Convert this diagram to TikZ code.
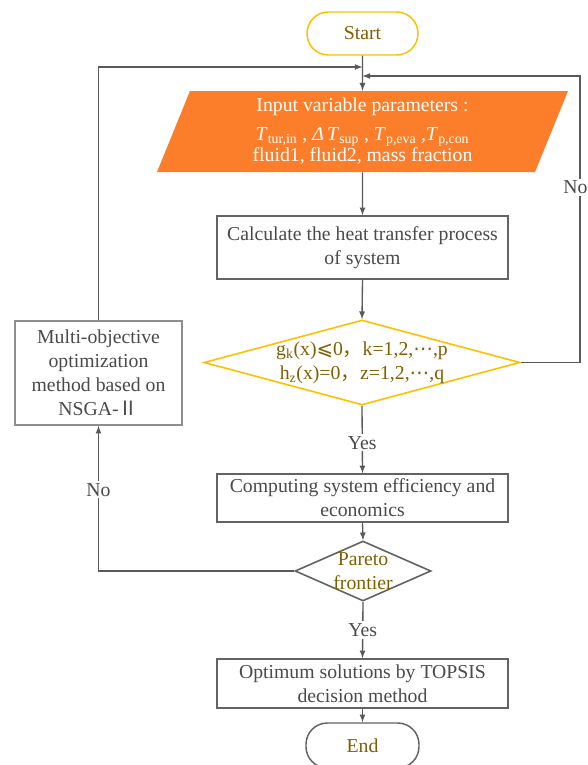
\documentclass[tikz,border=0pt]{standalone}
\usepackage{fontspec}
\setmainfont{Liberation Serif}
\newfontfamily\symfont{DejaVu Sans}
\newfontfamily\cjk{Noto Sans CJK SC}
\usepackage{xcolor}
\usetikzlibrary{shapes,arrows,calc}
\definecolor{linegray}{HTML}{595959}
\definecolor{boxgray}{HTML}{636363}
\definecolor{lightgray}{HTML}{8E8E8E}
\definecolor{txtgray}{HTML}{4A4A4A}
\definecolor{gold}{HTML}{FFC000}
\definecolor{goldtext}{HTML}{7F6000}
\definecolor{flowor}{HTML}{FC7E2A}
\tikzset{
  every node/.style={font=\fontsize{14.8pt}{18pt}\selectfont, text=txtgray},
  terminal/.style={rectangle, rounded corners=16pt, draw, line width=1.1pt,
    minimum width=83.25pt, minimum height=32.25pt, text=goldtext},
  process/.style={rectangle, draw=boxgray, line width=1.1pt,
    minimum width=218.25pt, align=center, inner sep=0pt},
  decision/.style={diamond, draw, line width=1.2pt, align=center, text=goldtext},
  inputbox/.style={trapezium, trapezium left angle=63.7, trapezium right angle=116.3,
    trapezium stretches body, fill=flowor, text=white, minimum width=308.25pt,
    minimum height=60.75pt, align=center, inner sep=0pt},
  flow/.style={draw=linegray, line width=1pt, -latex},
  lbl/.style={fill=white, inner sep=1.5pt}
}

\begin{document}
\begin{tikzpicture}[x=0.75pt,y=-0.75pt]
\useasboundingbox[fill=white] (0,0) rectangle (588,765);

\node[terminal, draw=gold] (start) at (362.5,33.5) {Start};
\node[inputbox] (input) at (362.5,131.5) {Input variable parameters :\\[3.5pt]
  \textit{T}\textsubscript{tur,in} , \textit{Δ\,T}\textsubscript{sup} , \textit{T}\textsubscript{p,eva} ,\textit{T}\textsubscript{p,con}\\[-2pt]
  fluid1, fluid2, mass fraction};
\node[process, minimum height=47.25pt] (calc) at (362.5,247.5)
  {Calculate the heat transfer process\\of system};
\node[decision, draw=gold, minimum width=237pt, minimum height=63.75pt, aspect=3.72,
  inner sep=-6pt] (check) at (362,362.5)
  {g\textsubscript{k}(x){\symfont ⩽}0{\cjk ，}k=1,2,{\symfont ⋯},p\\
   h\textsubscript{z}(x)=0{\cjk ，}z=1,2,{\symfont ⋯},q};
\node[process, minimum height=36pt] (compute) at (362.5,498)
  {Computing system efficiency and\\economics};
\node[decision, draw=boxgray, minimum width=102pt, minimum height=45pt, aspect=2.27,
  inner sep=-8pt] (pareto) at (363,571) {Pareto\\frontier};
\node[process, minimum height=36.75pt] (optimum) at (362.5,683.5)
  {Optimum solutions by TOPSIS\\decision method};
\node[terminal, draw=boxgray, minimum width=84.75pt, minimum height=33.75pt] (finish)
  at (362.5,745.5) {End};
\node[process, draw=lightgray, minimum width=125.25pt, minimum height=78pt] (multi)
  at (98.5,373) {Multi-objective\\optimization\\method based on\\NSGA-{\cjk Ⅱ}};

\coordinate (mergeL) at (362.5,67);
\coordinate (mergeR) at (362.5,76);
\coordinate (rloop) at (580,76);

\draw[flow] (start.south) -- (input.north);
\draw[flow] (input.south) -- (calc.north);
\draw[flow] (calc.south) -- (check.north);
\draw[flow] (check.south) -- node[lbl, pos=0.55] {Yes} (compute.north);
\draw[flow] (compute.south) -- (pareto.north);
\draw[flow] (pareto.south) -- node[lbl, pos=0.5] {Yes} (optimum.north);
\draw[flow] (optimum.south) -- (finish.north);
\draw[flow] (check.east) -| node[lbl, pos=0.806, xshift=-3.5pt] {No} (rloop) -- (mergeR);
\draw[flow] (pareto.west) -| node[lbl, pos=0.78] {No} (multi.south);
\draw[flow] (multi.north) |- (mergeL);
\end{tikzpicture}
\end{document}
